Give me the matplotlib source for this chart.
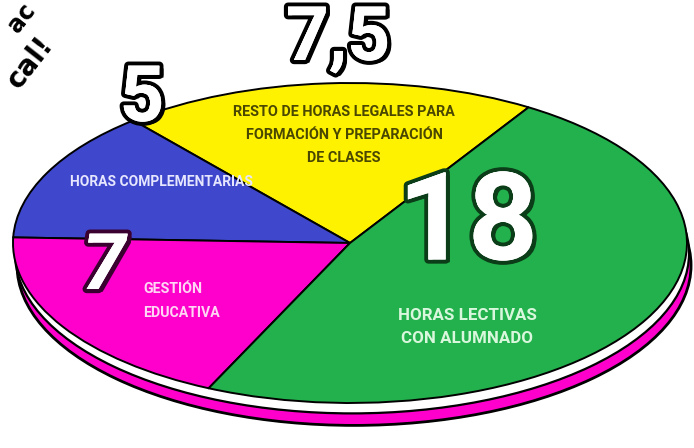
import matplotlib
matplotlib.use("Agg")
import matplotlib.pyplot as plt
import matplotlib.patheffects as pe
from matplotlib.patches import Ellipse

# ---- data ----
categories = ["RESTO DE HORAS LEGALES PARA\nFORMACIÓN Y PREPARACIÓN\nDE CLASES",
              "HORAS COMPLEMENTARIAS",
              "GESTIÓN\nEDUCATIVA",
              "HORAS LECTIVAS\nCON ALUMNADO"]
values = [7.5, 5, 7, 18]
colors = ["#FFF200", "#3F48CC", "#FF00CC", "#22B14C"]
label_colors = ["#4a4700", "#e6e6ff", "#ffd6f4", "#d9f7dc"]
number_edges = ["black", "black", "#3a0030", "#0b3d18"]
number_labels = [f"{v:g}".replace(".", ",") for v in values]

W, H = 694, 448
fig = plt.figure(figsize=(W / 100, H / 100), dpi=100)
fig.patch.set_facecolor("white")

# pie axes (squashed ellipse)
cx, cy, rx, ry = 350, 243, 337, 160
ax = fig.add_axes([(cx - rx) / W, (H - (cy + ry)) / H, 2 * rx / W, 2 * ry / H])
ax.set_xlim(-1, 1)
ax.set_ylim(-1, 1)
ax.axis("off")

# 3D rim: magenta disk below, white band between
rim = Ellipse((0.012, -0.14), 2.0, 2.0, facecolor="#FF00CC", edgecolor="black",
              lw=2, clip_on=False, zorder=0)
ax.add_patch(rim)
band = Ellipse((0.006, -0.065), 2.0, 2.0, facecolor="white", edgecolor="black",
               lw=1.6, clip_on=False, zorder=1)
ax.add_patch(band)

wedges, _ = ax.pie(values, colors=colors, startangle=58, counterclock=True,
                   radius=1.0, center=(0, 0),
                   wedgeprops=dict(edgecolor="black", linewidth=1.4))
for w in wedges:
    w.set_zorder(2)
    w.set_clip_on(False)
ax.set_xlim(-1, 1)
ax.set_ylim(-1, 1)
ax.set_aspect("auto")

# overlay axes in pixel coordinates for text
ov = fig.add_axes([0, 0, 1, 1])
ov.set_xlim(0, W)
ov.set_ylim(H, 0)
ov.axis("off")
ov.patch.set_alpha(0)

font = ["Roboto", "DejaVu Sans"]

label_pos = [(344, 135, "center"), (161, 182, "center"), (143, 301, "left"), (467, 327, "center")]
label_size = [10.4, 10.0, 10.2, 12.2]
label_ls = [1.85, 1.2, 1.85, 1.7]
for txt, (x, y, ha), c, s, ls in zip(categories, label_pos, label_colors, label_size, label_ls):
    ov.text(x, y, txt, ha=ha, va="center", color=c, fontsize=s, family=font,
            fontweight="bold", linespacing=ls, zorder=5)

num_pos = [(338, 40), (142, 100), (104, 268), (468, 226)]
num_size = [54, 56, 56, 88]
num_style = ["normal", "normal", "italic", "normal"]
for t, (x, y), ec, s, st in zip(number_labels, num_pos, number_edges, num_size, num_style):
    ov.text(x, y, t, ha="center", va="center", color="white", fontsize=s,
            family=font, fontstyle=st, fontweight="bold", zorder=6,
            path_effects=[pe.withStroke(linewidth=6, foreground=ec),
                          pe.withSimplePatchShadow(offset=(3, -2), shadow_rgbFace=ec, alpha=1),
                          pe.Normal()])

# rotated title fragments (top-left)
ov.text(22, 18, "ac", ha="center", va="center", rotation=52, fontsize=17,
        fontweight="bold", color="black", zorder=6)
ov.text(30, 62, "cal!", ha="center", va="center", rotation=52, fontsize=20,
        fontweight="bold", color="black", zorder=6)

fig.savefig("out.png", dpi=100, facecolor="white")
